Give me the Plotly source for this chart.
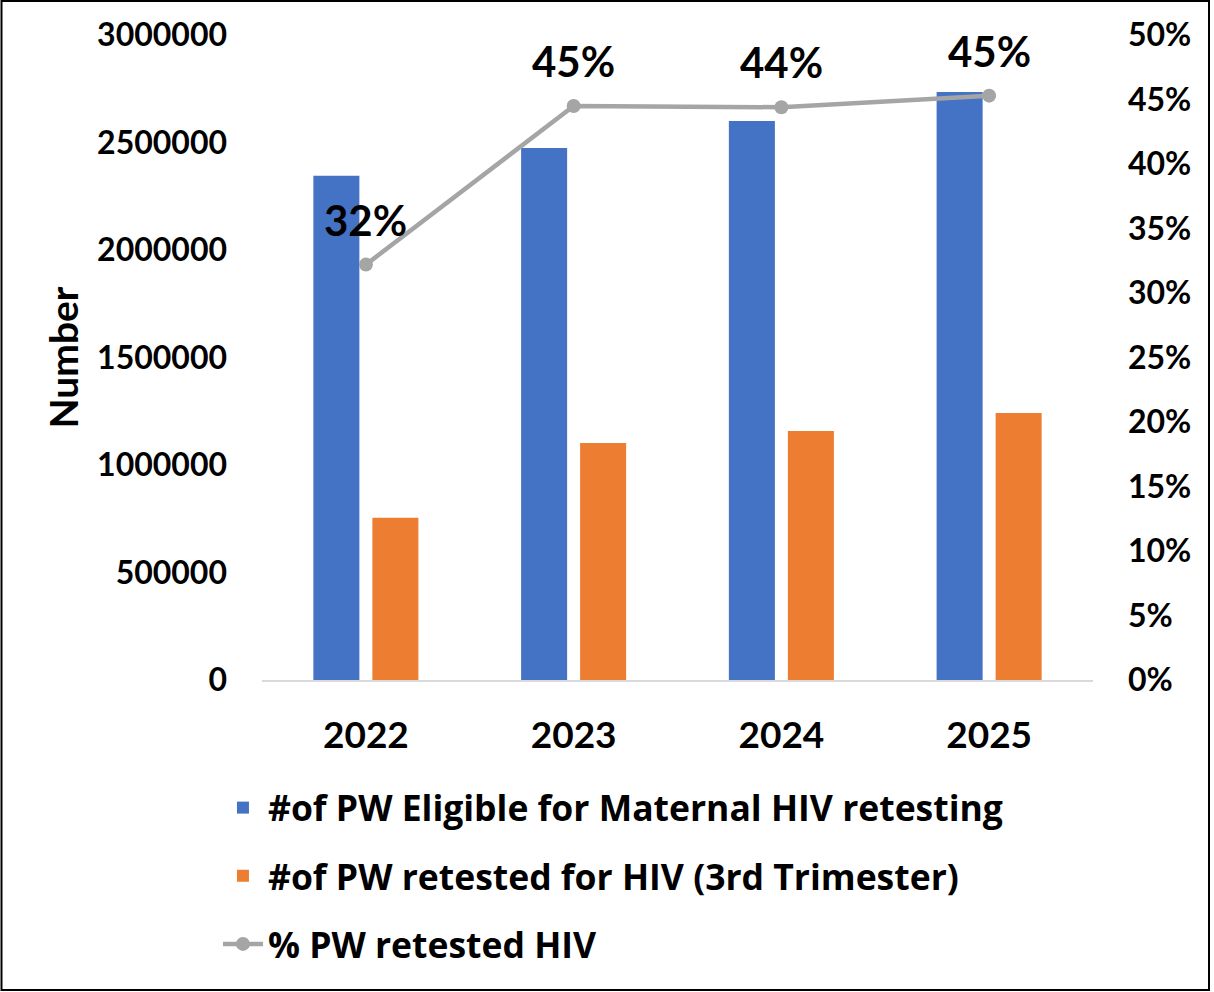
import plotly.graph_objects as go

years = ["2022", "2023", "2024", "2025"]
eligible = [2345000, 2475000, 2600000, 2735000]
retested = [755000, 1102000, 1158000, 1242000]
pct_retested = [32.2, 44.5, 44.4, 45.3]
pct_labels = ["32%", "45%", "44%", "45%"]

left_ticks = [0, 500000, 1000000, 1500000, 2000000, 2500000, 3000000]
right_ticks = [0, 5, 10, 15, 20, 25, 30, 35, 40, 45, 50]

W, H = 1214, 992
ML, MR, MT, MB = 262, 121, 35, 312
FONT = "Lato"
LFONT = "Open Sans"

fig = go.Figure()
fig.add_trace(go.Bar(
    x=years, y=eligible, name="#of PW Eligible for Maternal HIV retesting",
    marker=dict(color="#4472C4", line=dict(width=0)), legendgroup="a",
))
fig.add_trace(go.Bar(
    x=years, y=retested, name="#of PW retested for HIV (3rd Trimester)",
    marker=dict(color="#ED7D31", line=dict(width=0)), legendgroup="b",
))
fig.add_trace(go.Scatter(
    x=years, y=pct_retested, name="% PW retested HIV", yaxis="y2",
    mode="lines+markers", legendgroup="c",
    line=dict(color="#A5A5A5", width=4.5),
    marker=dict(color="#A5A5A5", size=14),
))

# data labels: category axis positions given as category indices
for i, (p, lab) in enumerate(zip(pct_retested, pct_labels)):
    fig.add_annotation(
        x=i, y=p, xref="x", yref="y2", text=lab, showarrow=False,
        yshift=45, font=dict(family=FONT, size=42, color="black", weight="bold"),
    )

pw = W - ML - MR
ph = H - MT - MB
fig.add_shape(
    type="rect", xref="paper", yref="paper",
    x0=(1.5 - ML) / pw, x1=(1209 - ML) / pw,
    y0=(H - MB - 990) / ph, y1=(H - MB - 1) / ph,
    line=dict(color="black", width=2), fillcolor="rgba(0,0,0,0)", layer="above",
)

fig.update_layout(
    width=W, height=H,
    margin=dict(l=ML, r=MR, t=MT, b=MB),
    paper_bgcolor="white", plot_bgcolor="white",
    font=dict(family=FONT, color="black", weight="bold"),
    barmode="group", bargap=0.432, bargroupgap=0.22,
    showlegend=True,
    legend=dict(
        orientation="v", x=-0.053, xanchor="left", y=-0.152, yanchor="top",
        font=dict(family=LFONT, size=35.5, color="black", weight="bold"),
        bgcolor="rgba(0,0,0,0)", itemwidth=40, tracegroupgap=19,
    ),
    xaxis=dict(
        type="category", range=[-0.5, 3.5],
        tickfont=dict(family=FONT, size=37, weight="bold"),
        showgrid=False, showline=True, linecolor="#D9D9D9", linewidth=2,
        ticks="", ticklabelstandoff=22,
    ),
    yaxis=dict(
        range=[0, 3000000], tickvals=left_ticks, ticktext=[str(v) for v in left_ticks],
        tickfont=dict(family=FONT, size=32, weight="bold"),
        showgrid=False, zeroline=False, showline=False, ticks="",
        ticklabelstandoff=34,
        title=dict(text="Number", font=dict(family=FONT, size=39, weight="bold"), standoff=6),
    ),
    yaxis2=dict(
        overlaying="y", side="right", range=[0, 50], tickvals=right_ticks,
        ticktext=[f"{v}%" for v in right_ticks],
        tickfont=dict(family=FONT, size=32, weight="bold"),
        showgrid=False, zeroline=False, showline=False, ticks="",
        ticklabelstandoff=34,
    ),
)

fig.write_html(
    "out.html",
    config={"displayModeBar": False},
    post_script="document.body.style.margin='0';",
)
